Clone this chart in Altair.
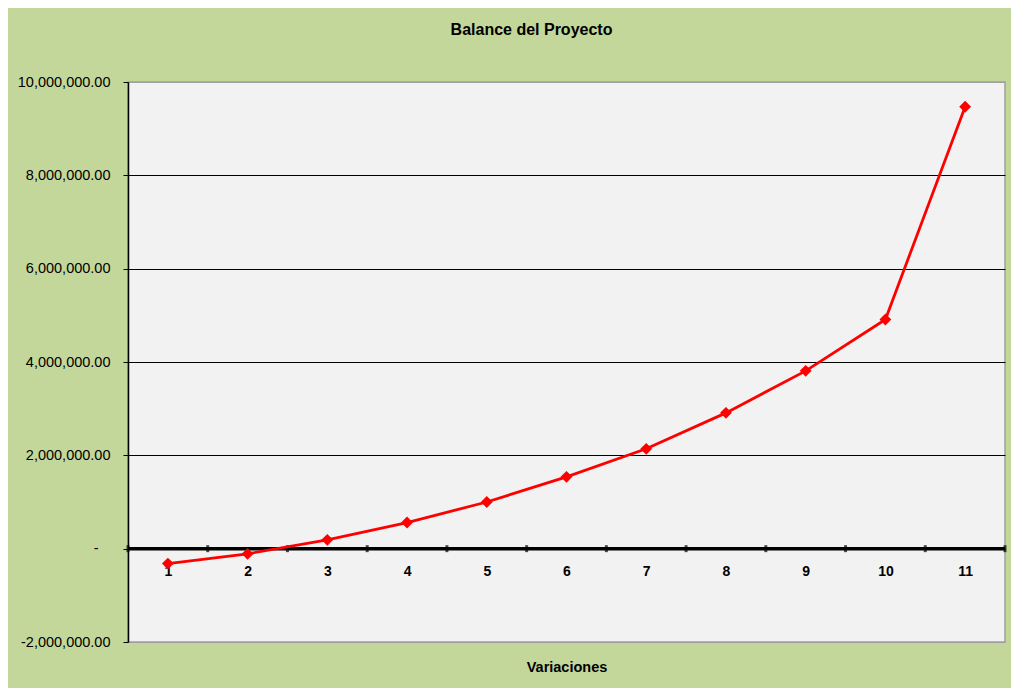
import altair as alt
import pandas as pd

variaciones = [1, 2, 3, 4, 5, 6, 7, 8, 9, 10, 11]
balance = [-320000, -110000, 190000, 560000, 1000000, 1540000,
           2140000, 2910000, 3810000, 4910000, 9470000]

df = pd.DataFrame({"variacion": variaciones, "balance": balance})
bounds = pd.DataFrame({"b": [v - 0.5 for v in variaciones] + [variaciones[-1] + 0.5]})

W, H = 877, 560
ymin, ymax = -2000000, 10000000
zero_offset = -H * (0 - ymin) / (ymax - ymin)

xscale = alt.Scale(domain=[0.5, 11.5], nice=False, zero=False)
yscale = alt.Scale(domain=[ymin, ymax], nice=False)

label_expr = (
    "datum.value == 0 ? '-' : "
    "(datum.value < 0 ? '-' + format(-datum.value, ',.2f') : format(datum.value, ',.2f'))"
)

y_axis = alt.Axis(
    values=list(range(ymin, ymax + 1, 2000000)),
    labelExpr=label_expr,
    labelFont="Liberation Sans", labelFontSize=14.5, labelColor="#000000",
    labelPadding={"condition": {"test": "datum.value == 0", "value": 25}, "value": 13},
    tickSize=5, tickColor="#000000",
    domainColor="#000000", domainWidth=1.5,
    grid=True,
    gridColor={"condition": {"test": "datum.value >= 10000000 || datum.value <= -2000000",
                              "value": "#A0A0A0"}, "value": "#000000"},
    gridWidth=1.2, title=None,
)

x_axis = alt.Axis(
    values=variaciones, format="d", ticks=False, domain=False, grid=False,
    labelFont="Liberation Sans", labelFontSize=14, labelFontWeight="bold",
    labelColor="#000000", labelPadding=16, offset=zero_offset,
    title="Variaciones", titleFont="Liberation Sans", titleFontSize=14.5,
    titleFontWeight="bold", titleColor="#000000", titlePadding=82,
)

base = alt.Chart(df)

line = base.mark_line(color="#FF0000", strokeWidth=2.8).encode(
    x=alt.X("variacion:Q", scale=xscale, axis=x_axis),
    y=alt.Y("balance:Q", scale=yscale, axis=y_axis),
)
points = base.mark_point(shape="diamond", filled=True, color="#FF0000",
                         size=140, opacity=1).encode(
    x=alt.X("variacion:Q", scale=xscale),
    y=alt.Y("balance:Q", scale=yscale),
)
zero_rule = alt.Chart(bounds).mark_rule(color="#000000", strokeWidth=3.5).encode(
    x=alt.X("min(b):Q", scale=xscale),
    x2="max(b):Q",
    y=alt.Y("zero:Q", scale=yscale),
).transform_calculate(zero="0")
ticks = alt.Chart(bounds).mark_tick(color="#000000", orient="vertical",
                                    size=7, thickness=3).encode(
    x=alt.X("b:Q", scale=xscale),
    y=alt.Y("zero:Q", scale=yscale),
).transform_calculate(zero="0")

chart = alt.layer(zero_rule, ticks, line, points).properties(
    width=W, height=H,
    title=alt.TitleParams("Balance del Proyecto", font="Liberation Sans",
                          fontSize=16, fontWeight="bold", color="#000000",
                          anchor="middle", dx=-35, offset=36),
    background="#C4D79B",
    padding={"left": 120, "top": 74, "right": 6, "bottom": 46},
    autosize=alt.AutoSizeParams(type="none"),
).configure_view(fill="#F2F2F2", stroke="#A0A0A0", strokeWidth=1.5)

chart.save("out.html", embed_options={"renderer": "svg", "actions": False})
